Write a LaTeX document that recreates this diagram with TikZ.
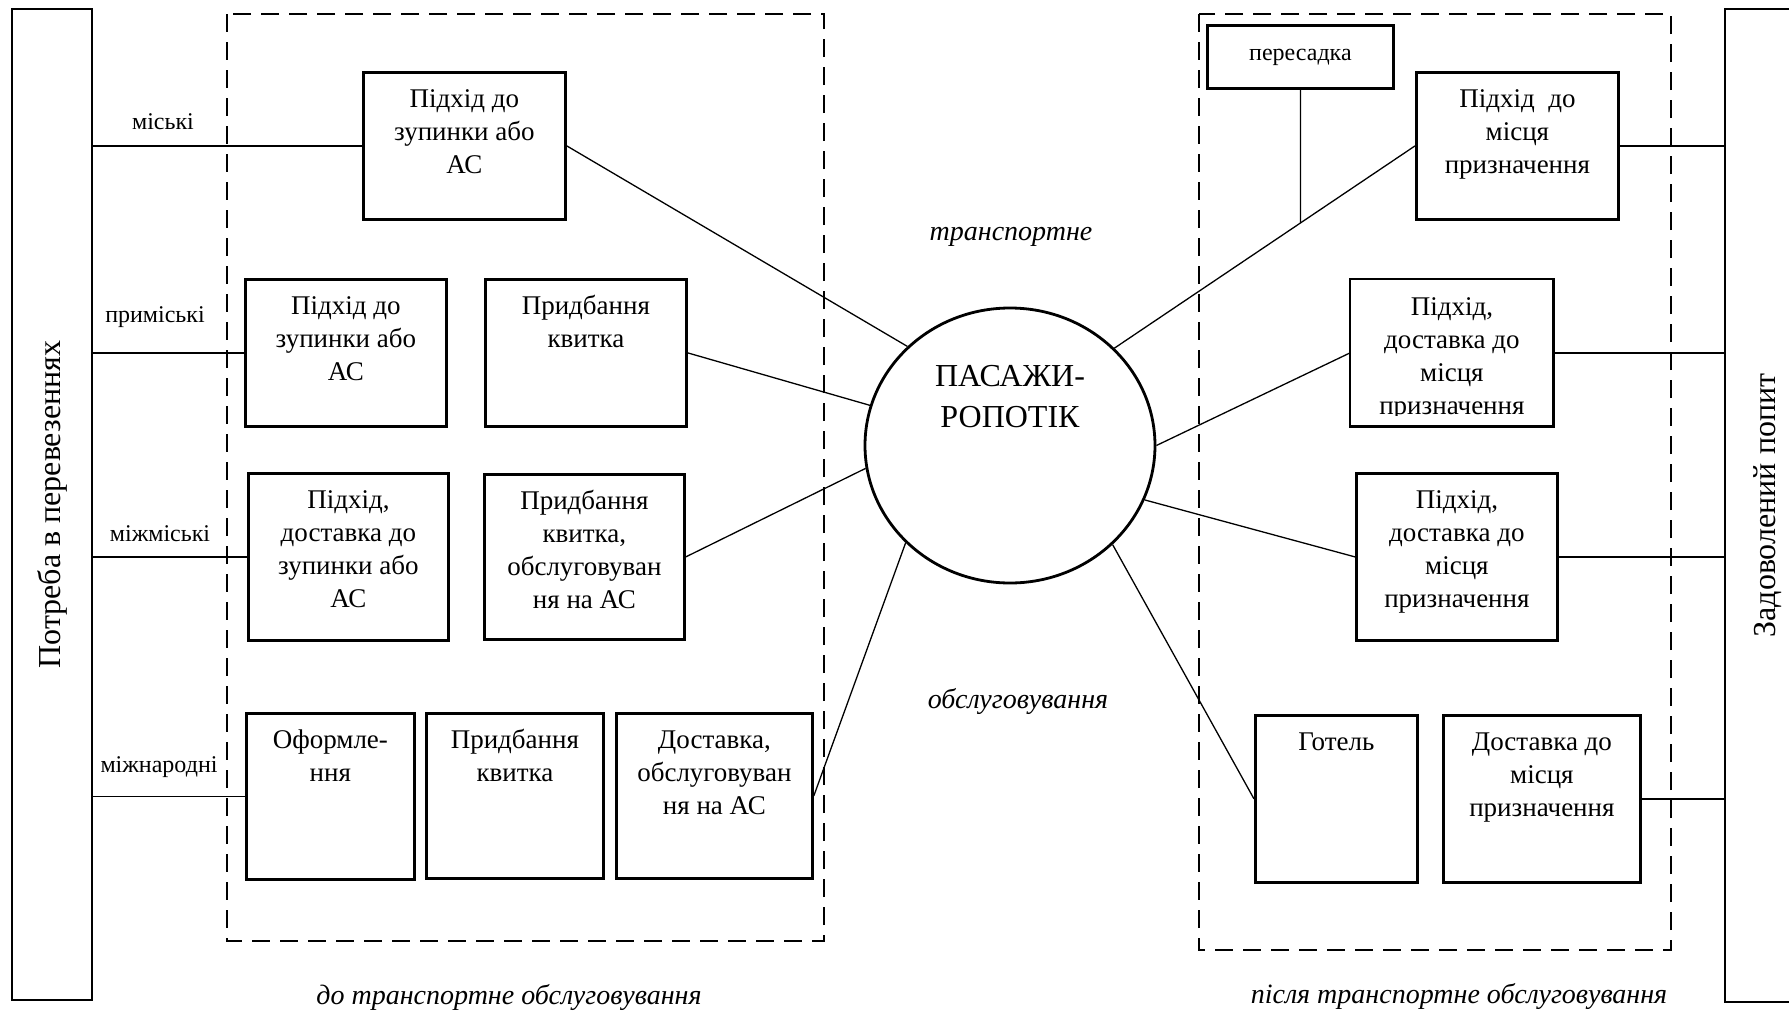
\documentclass[tikz,border=0pt]{standalone}
\usepackage{fontspec}
\setmainfont{Liberation Serif}
\usetikzlibrary{shapes.geometric,calc}
\tikzset{
  tb/.style={draw, line width=1.4pt, inner sep=0pt, font=\fontsize{13.5}{16.5}\selectfont},
  conn/.style={line width=0.65pt},
  dashbox/.style={line width=1.4pt, dash pattern=on 9pt off 5pt},
  lbl/.style={font=\fontsize{12}{14}\selectfont, inner sep=0pt},
  itl/.style={font=\fontsize{14}{16}\selectfont\itshape, inner sep=0pt},
  bar/.style={draw, line width=1.4pt, rotate=90, inner sep=0pt, font=\fontsize{16}{18}\selectfont},
}
\newcommand{\mybox}[7][]{\node[tb,anchor=north west,#1] (#2) at (#3,#4) {\parbox[t][\dimexpr(#6pt-#4pt)/2\relax][t]{\dimexpr(#5pt-#3pt)/2\relax}{\centering\rule{0pt}{17.5pt}#7}};}
\begin{document}
\begin{tikzpicture}[x=0.5pt, y=-0.5pt]
\useasboundingbox (0,0) rectangle (1789,1012);
\fill[white] (0,0) rectangle (1789,1012);
\clip (0,0) rectangle (1789,1012);

% side bars
\node[bar, minimum width=495.5pt, minimum height=40pt] (lb) at (52,504.5) {Потреба в перевезеннях};
\node[bar, minimum width=496.5pt, minimum height=42.5pt] (rb) at (1767.5,505.5) {Задоволений попит};

% dashed groups
\draw[dashbox] (227,14) rectangle (824,941);
\draw[dashbox] (1199,14) rectangle (1671,950);

% left boxes
\mybox{b1}{362}{71}{564}{218}{Підхід до\\зупинки або\\АС}
\mybox{b2}{244}{278}{445}{425}{Підхід до\\зупинки або\\АС}
\mybox{b3}{484}{278}{685}{425}{Придбання\\квитка}
\mybox{b4}{247}{472}{447}{639}{Підхід,\\доставка до\\зупинки або\\АС}
\mybox{b5}{483}{473}{683}{638}{Придбання\\квитка,\\обслуговуван\\ня на АС}
\mybox{b6}{245}{712}{413}{878}{Оформле-\\ння}
\mybox{b7}{425}{712}{602}{877}{Придбання\\квитка}
\mybox{b8}{615}{712}{811}{877}{Доставка,\\обслуговуван\\ня на АС}

% right boxes
\node[tb, font=\fontsize{12}{14}\selectfont, anchor=north west, minimum width=93pt, minimum height=31.5pt] (b9) at (1206,24) {пересадка};
\mybox{b10}{1415}{71}{1617}{218}{Підхід\ \ до\\місця\\призначення}
\begin{scope}
  \clip (1340,270) rectangle (1560,415);
  \mybox[draw=none]{b11}{1350}{279}{1551}{424}{Підхід,\\доставка до\\місця\\призначення}
\end{scope}
\draw[line width=1.4pt] (b11.north west) rectangle (b11.south east);
\mybox{b12}{1355}{472}{1556}{639}{Підхід,\\доставка до\\місця\\призначення}
\mybox{b13}{1254}{714}{1416}{881}{Готель}
\mybox{b14}{1442}{714}{1639}{881}{Доставка до\\місця\\призначення}

% central ellipse
\node[ellipse, draw, line width=1.4pt, minimum width=145pt, minimum height=137.5pt, inner sep=0pt] (e) at (1010,445.5) {};
\node[font=\fontsize{16}{20.5}\selectfont, align=center, inner sep=0pt] (et) at (1010,397) {ПАСАЖИ-\\РОПОТІК};

% labels
\node[lbl] (l1) at (163,122) {міські};
\node[lbl] (l2) at (155,317) {приміські};
\node[lbl] (l3) at (160,534) {міжміські};
\node[lbl] (l4) at (159,767) {міжнародні};
\node[itl] (t1) at (1011,237) {транспортне};
\node[itl] (t2) at (1018,701) {обслуговування};
\node[itl] (t3) at (509,997) {до транспортне обслуговування};
\node[itl] (t4) at (1459,996) {після транспортне обслуговування};

% connectors from left bar
\draw[conn] (b1.west -| lb.south) -- (b1.west);
\draw[conn] (b2.west -| lb.south) -- (b2.west);
\draw[conn] (b4.west -| lb.south) -- (b4.west);
\draw[conn] (b6.west -| lb.south) -- (b6.west);

% connectors to right bar
\draw[conn] (b10.east) -- (b10.east -| rb.north);
\draw[conn] (b11.east) -- (b11.east -| rb.north);
\draw[conn] (b12.east) -- (b12.east -| rb.north);
\draw[conn] (b14.east) -- (b14.east -| rb.north);

% connectors to ellipse
\draw[conn] (b1.east) -- (e.136.6);
\draw[conn] (b3.east) -- (e.164.8);
\draw[conn] (b5.east) -- (e.189.7);
\draw[conn] (b8.east) -- (e.223.4);
\coordinate (a1) at (e.43.4);
\draw[conn] (a1) -- (b10.west);
\draw[conn] (e.0.6) -- (b11.west);
\draw[conn] (e.338.7) -- (b12.west);
\draw[conn] (e.316.6) -- (b13.west);
\coordinate (p) at (intersection of b9.south--b9.center and a1--b10.west);
\draw[conn] (b9.south) -- (p);
\end{tikzpicture}
\end{document}
